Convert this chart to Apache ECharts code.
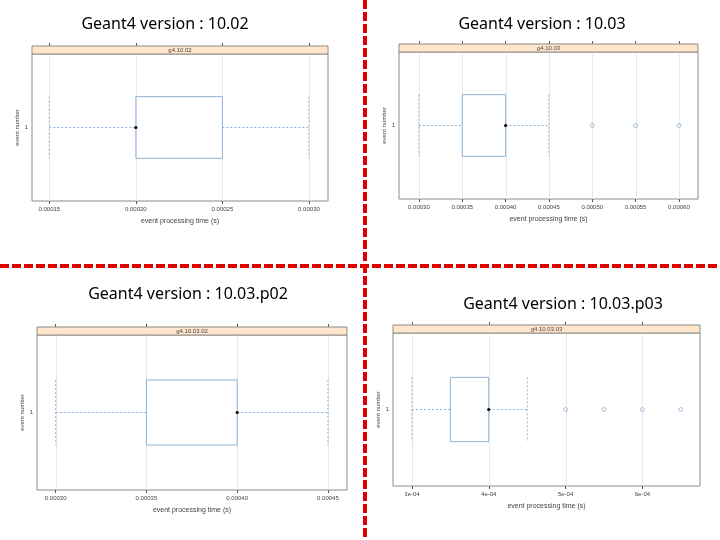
<!DOCTYPE html>
<html>
<head>
<meta charset="utf-8">
<script src="https://cdn.jsdelivr.net/npm/echarts@6/dist/echarts.min.js"></script>
<style>
  html, body { margin: 0; padding: 0; background: #fff; }
  #chart { width: 720px; height: 540px; }
</style>
</head>
<body>
<div id="chart"></div>
<script>
// 数据 - 每个面板一个版本
const panelTitles = ['Geant4 version : 10.02', 'Geant4 version : 10.03', 'Geant4 version : 10.03.p02', 'Geant4 version : 10.03.p03'];
const stripLabels = ['g4.10.02', 'g4.10.03', 'g4.10.03.02', 'g4.10.03.03'];
const categories = ['1'];

// [low whisker, q1, median, q3, high whisker]
const stats1002 = [0.00015, 0.00020, 0.00020, 0.00025, 0.00030];
const stats1003 = [0.00030, 0.00035, 0.00040, 0.00040, 0.00045];
const stats1003p02 = [0.00030, 0.00035, 0.00040, 0.00040, 0.00045];
const stats1003p03 = [0.00030, 0.00035, 0.00040, 0.00040, 0.00045];

const outliers1002 = [];
const outliers1003 = [0.00050, 0.00055, 0.00060];
const outliers1003p02 = [];
const outliers1003p03 = [0.00050, 0.00055, 0.00060, 0.00065];

const ticks1002 = [0.00015, 0.00020, 0.00025, 0.00030];
const ticks1003 = [0.00030, 0.00035, 0.00040, 0.00045, 0.00050, 0.00055, 0.00060];
const ticks1003p02 = [0.00030, 0.00035, 0.00040, 0.00045];
const ticks1003p03 = [0.0003, 0.0004, 0.0005, 0.0006];

const labels1002 = ['0.00015', '0.00020', '0.00025', '0.00030'];
const labels1003 = ['0.00030', '0.00035', '0.00040', '0.00045', '0.00050', '0.00055', '0.00060'];
const labels1003p02 = ['0.00030', '0.00035', '0.00040', '0.00045'];
const labels1003p03 = ['3e-04', '4e-04', '5e-04', '6e-04'];

// 轴范围
const ranges = [[0.00014, 0.000311], [0.000277, 0.000622], [0.0002897, 0.0004605], [0.0002753, 0.000675]];

const panels = [
  { stats: stats1002, outliers: outliers1002, ticks: ticks1002, labels: labels1002 },
  { stats: stats1003, outliers: outliers1003, ticks: ticks1003, labels: labels1003 },
  { stats: stats1003p02, outliers: outliers1003p02, ticks: ticks1003p02, labels: labels1003p02 },
  { stats: stats1003p03, outliers: outliers1003p03, ticks: ticks1003p03, labels: labels1003p03 }
];

// 布局
const gridPos = [
  { left: 32, top: 54, width: 296, height: 147 },
  { left: 399, top: 52, width: 299, height: 147 },
  { left: 37, top: 335, width: 310, height: 155 },
  { left: 393, top: 333, width: 307, height: 153 }
];
const titlePos = [[160, 11], [537, 11], [183, 281], [558, 291]];
const stripH = 8;
const boxColor = '#8fb3d6';
const frameColor = '#8e8a86';
const smallFont = 'Liberation Sans';

const chart = echarts.init(document.getElementById('chart'));

function renderBox(params, api) {
  const yi = api.value(0);
  const low = api.coord([api.value(1), yi]);
  const q1 = api.coord([api.value(2), yi]);
  const med = api.coord([api.value(3), yi]);
  const q3 = api.coord([api.value(4), yi]);
  const high = api.coord([api.value(5), yi]);
  const h = api.size([0, 1])[1] * 0.42;
  const cy = low[1];
  const top = cy - h / 2;
  const solid = { stroke: boxColor, fill: null, lineWidth: 1 };
  const dash = { stroke: boxColor, fill: null, lineWidth: 1, lineDash: [2, 2] };
  return {
    type: 'group',
    children: [
      { type: 'line', shape: { x1: low[0], y1: cy, x2: q1[0], y2: cy }, style: dash },
      { type: 'line', shape: { x1: q3[0], y1: cy, x2: high[0], y2: cy }, style: dash },
      { type: 'line', shape: { x1: low[0], y1: top, x2: low[0], y2: top + h }, style: dash },
      { type: 'line', shape: { x1: high[0], y1: top, x2: high[0], y2: top + h }, style: dash },
      { type: 'rect', shape: { x: q1[0], y: top, width: q3[0] - q1[0], height: h }, style: solid },
      { type: 'circle', shape: { cx: med[0], cy: cy, r: 1.6 }, style: { fill: '#000' } }
    ]
  };
}

// 竖向网格线
function renderGridLine(params, api) {
  const cs = params.coordSys;
  const x = Math.round(api.coord([api.value(0), 0])[0]) + 0.5;
  return {
    type: 'line',
    shape: { x1: x, y1: cs.y, x2: x, y2: cs.y + cs.height },
    style: { stroke: '#e8e8e8', lineWidth: 1 }
  };
}

const fmt = (ticks, labels) => v => {
  const i = ticks.findIndex(t => Math.abs(t - v) < 1e-12);
  return i >= 0 ? labels[i] : '';
};

const grid = [], xAxis = [], yAxis = [], series = [], title = [], graphic = [];

panels.forEach((p, i) => {
  const g = gridPos[i];
  grid.push(Object.assign({ show: true, borderColor: frameColor, borderWidth: 1, backgroundColor: '#fff' }, g));

  // 底部x轴
  xAxis.push({
    type: 'value', gridIndex: i, min: ranges[i][0], max: ranges[i][1],
    name: 'event processing time (s)', nameLocation: 'middle', nameGap: 17,
    nameTextStyle: { fontSize: 7, color: '#444', fontFamily: smallFont },
    axisLine: { show: false },
    axisTick: { show: true, length: 3, lineStyle: { color: '#555' }, customValues: p.ticks },
    axisLabel: { fontSize: 6, color: '#444', margin: 5, fontFamily: smallFont, customValues: p.ticks, formatter: fmt(p.ticks, p.labels) },
    splitLine: { show: false }
  });
  // 顶部刻度(条带上方)
  xAxis.push({
    type: 'value', gridIndex: i, position: 'top', offset: stripH,
    min: ranges[i][0], max: ranges[i][1],
    axisLine: { show: false },
    axisTick: { show: true, length: 3, lineStyle: { color: '#555' }, customValues: p.ticks },
    axisLabel: { show: false },
    splitLine: { show: false }
  });

  yAxis.push({
    type: 'category', gridIndex: i, data: categories,
    name: 'event number', nameLocation: 'middle', nameGap: 11, nameRotate: 90,
    nameTextStyle: { fontSize: 6, color: '#444', fontFamily: smallFont },
    axisLine: { show: false }, axisTick: { show: false },
    axisLabel: { fontSize: 6, color: '#444', margin: 4, fontFamily: smallFont }
  });

  // 网格线
  series.push({
    type: 'custom', xAxisIndex: i * 2, yAxisIndex: i, z: 1, silent: true,
    renderItem: renderGridLine,
    encode: { x: 0 },
    data: p.ticks.map(v => [v])
  });
  // 箱线
  series.push({
    type: 'custom', xAxisIndex: i * 2, yAxisIndex: i, z: 3,
    renderItem: renderBox,
    encode: { x: [1, 2, 3, 4, 5], y: 0 },
    data: [[0].concat(p.stats)]
  });
  // 离群点
  series.push({
    type: 'scatter', xAxisIndex: i * 2, yAxisIndex: i, z: 3,
    symbol: 'circle', symbolSize: 4,
    itemStyle: { color: 'transparent', borderColor: boxColor, borderWidth: 1 },
    data: p.outliers.map(v => [v, categories[0]])
  });

  title.push({
    text: panelTitles[i], left: titlePos[i][0], top: titlePos[i][1], textAlign: 'center',
    textStyle: { fontSize: 16, fontWeight: 'normal', color: '#000', fontFamily: 'Noto Sans' }
  });

  // 条带
  graphic.push({
    type: 'rect', z: 10,
    shape: { x: g.left, y: g.top - stripH, width: g.width, height: stripH },
    style: { fill: '#ffe5cc', stroke: frameColor, lineWidth: 1 }
  });
  graphic.push({
    type: 'text', z: 11,
    x: g.left + g.width / 2, y: g.top - stripH / 2,
    style: { text: stripLabels[i], fontSize: 6, fill: '#444', align: 'center', verticalAlign: 'middle', fontFamily: smallFont }
  });
});

// 红色虚线分隔
graphic.push({
  type: 'line', z: 20, shape: { x1: 365, y1: 0, x2: 365, y2: 540 },
  style: { stroke: '#e00000', lineWidth: 4, lineDash: [9, 3] }
});
graphic.push({
  type: 'line', z: 20, shape: { x1: 0, y1: 266, x2: 720, y2: 266 },
  style: { stroke: '#e00000', lineWidth: 4, lineDash: [9, 3] }
});

chart.setOption({
  backgroundColor: '#fff',
  animation: false,
  title, grid, xAxis, yAxis, series, graphic
});
</script>
</body>
</html>
